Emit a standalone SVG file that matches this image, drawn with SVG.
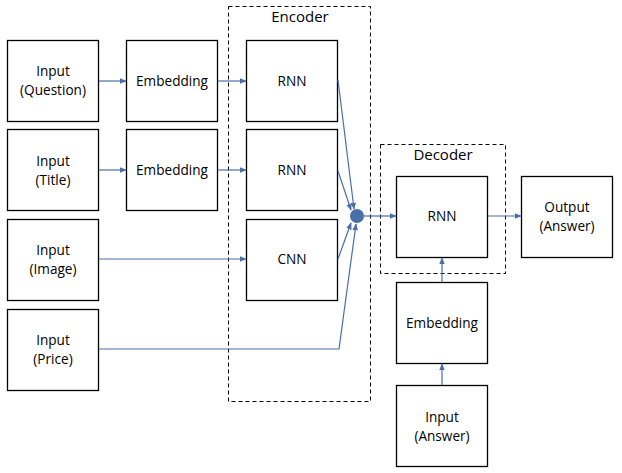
<svg xmlns="http://www.w3.org/2000/svg" width="622" height="473" viewBox="0 0 622 473">
  <style>
    .box { fill: #ffffff; stroke: #000000; stroke-width: 1.3; }
    .group { fill: none; stroke: #000000; stroke-width: 1; stroke-dasharray: 4 3; }
    .lbl { font-family: "Open Sans", "Liberation Sans", sans-serif; font-size: 13.6px; fill: #000000; text-anchor: middle; }
    .title { font-family: "Open Sans", "Liberation Sans", sans-serif; font-size: 15px; fill: #000000; text-anchor: middle; }
    .edge { fill: none; stroke: #4a6ea8; stroke-width: 1.2; marker-end: url(#arrow); }
  </style>
  <defs>
    <marker id="arrow" viewBox="0 0 10 10" refX="9" refY="5" markerWidth="7" markerHeight="7" markerUnits="userSpaceOnUse" orient="auto">
      <path d="M0,1 L10,5 L0,9 z" fill="#4a6ea8"/>
    </marker>
  </defs>
  <rect width="622" height="473" fill="#ffffff"/>

  <!-- Encoder / Decoder frames -->
  <g id="encoder">
    <rect class="group" x="228.5" y="6.5" width="142" height="395"/>
    <text class="title" x="300" y="22">Encoder</text>
  </g>
  <g id="decoder">
    <rect class="group" x="380.5" y="144.5" width="125" height="129"/>
    <text class="title" x="443" y="160">Decoder</text>
  </g>

  <!-- Inputs -->
  <g id="in-question">
    <rect class="box" x="7.5" y="40.5" width="91" height="81"/>
    <text class="lbl" x="53" y="76">Input</text>
    <text class="lbl" x="53" y="95">(Question)</text>
  </g>
  <g id="in-title">
    <rect class="box" x="7.5" y="129.5" width="91" height="81"/>
    <text class="lbl" x="53" y="166">Input</text>
    <text class="lbl" x="53" y="185">(Title)</text>
  </g>
  <g id="in-image">
    <rect class="box" x="7.5" y="219.5" width="91" height="81"/>
    <text class="lbl" x="53" y="255">Input</text>
    <text class="lbl" x="53" y="274">(Image)</text>
  </g>
  <g id="in-price">
    <rect class="box" x="7.5" y="309.5" width="91" height="81"/>
    <text class="lbl" x="53" y="345">Input</text>
    <text class="lbl" x="53" y="364">(Price)</text>
  </g>

  <!-- Embeddings -->
  <g id="emb-question">
    <rect class="box" x="126.5" y="40.5" width="91" height="81"/>
    <text class="lbl" x="172" y="86">Embedding</text>
  </g>
  <g id="emb-title">
    <rect class="box" x="126.5" y="129.5" width="91" height="81"/>
    <text class="lbl" x="172" y="175">Embedding</text>
  </g>

  <!-- Encoder cells -->
  <g id="rnn-question">
    <rect class="box" x="246.5" y="40.5" width="91" height="81"/>
    <text class="lbl" x="292" y="86">RNN</text>
  </g>
  <g id="rnn-title">
    <rect class="box" x="246.5" y="129.5" width="91" height="81"/>
    <text class="lbl" x="292" y="175">RNN</text>
  </g>
  <g id="cnn-image">
    <rect class="box" x="246.5" y="219.5" width="91" height="81"/>
    <text class="lbl" x="292" y="264">CNN</text>
  </g>

  <!-- Merge point -->
  <g id="merge">
    <circle cx="357" cy="216" r="7" fill="#4a6ea8"/>
  </g>

  <!-- Decoder side -->
  <g id="rnn-decoder">
    <rect class="box" x="396.5" y="176.5" width="91" height="81"/>
    <text class="lbl" x="442" y="221">RNN</text>
  </g>
  <g id="output">
    <rect class="box" x="521.5" y="176.5" width="91" height="81"/>
    <text class="lbl" x="567" y="212">Output</text>
    <text class="lbl" x="567" y="231">(Answer)</text>
  </g>
  <g id="emb-answer">
    <rect class="box" x="396.5" y="282.5" width="91" height="81"/>
    <text class="lbl" x="442" y="328">Embedding</text>
  </g>
  <g id="in-answer">
    <rect class="box" x="396.5" y="385.5" width="91" height="81"/>
    <text class="lbl" x="442" y="422">Input</text>
    <text class="lbl" x="442" y="441">(Answer)</text>
  </g>

  <!-- Connectors -->
  <g id="connectors">
    <line class="edge" x1="99" y1="81" x2="126" y2="81"/>
    <line class="edge" x1="218" y1="81" x2="246" y2="81"/>
    <line class="edge" x1="99" y1="170" x2="126" y2="170"/>
    <line class="edge" x1="218" y1="170" x2="246" y2="170"/>
    <line class="edge" x1="99" y1="259" x2="246" y2="259"/>
    <line class="edge" x1="338" y1="80" x2="354" y2="209"/>
    <line class="edge" x1="338" y1="171" x2="351" y2="210"/>
    <line class="edge" x1="338" y1="259" x2="351" y2="223"/>
    <polyline class="edge" points="99,349 339,349 356,224"/>
    <line class="edge" x1="364" y1="216" x2="396" y2="216"/>
    <line class="edge" x1="488" y1="216" x2="521" y2="216"/>
    <line class="edge" x1="442" y1="282" x2="442" y2="258"/>
    <line class="edge" x1="442" y1="385" x2="442" y2="364"/>
  </g>
</svg>
